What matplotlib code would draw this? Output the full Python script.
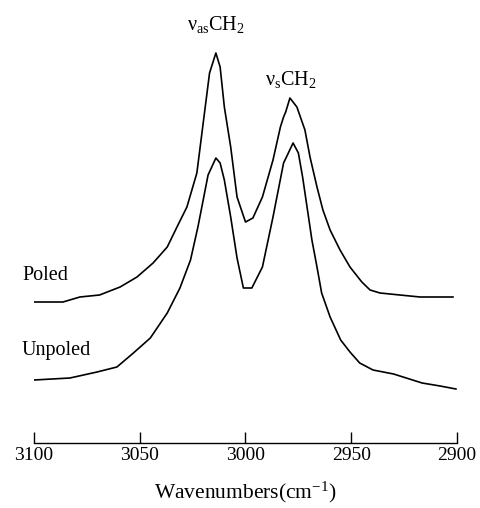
import matplotlib
matplotlib.use('Agg')
import matplotlib.pyplot as plt

plt.rcParams['font.family'] = ['Liberation Serif', 'DejaVu Serif']
plt.rcParams['mathtext.fontset'] = 'custom'
plt.rcParams['mathtext.rm'] = 'Liberation Serif'
plt.rcParams['mathtext.it'] = 'Liberation Serif:italic'

# 光谱数据 (读图得到, 任意单位, 两条曲线已错开)
poled_wn = [3100, 3086.3, 3078.3, 3069, 3059.3, 3051.3, 3043.7, 3037, 3032.4, 3027.7,
            3023, 3020, 3017, 3014, 3012, 3010, 3007, 3004, 3000, 2996.5, 2992, 2987,
            2983.5, 2982, 2981, 2979, 2975.7, 2971.9, 2969.5, 2966.2, 2963.4, 2960,
            2955.3, 2950.6, 2945, 2941.1, 2936.4, 2927, 2917.5, 2901.9]
poled_abs = [1.41, 1.41, 1.46, 1.48, 1.56, 1.66, 1.80, 1.96, 2.16, 2.36,
             2.70, 3.20, 3.70, 3.90, 3.76, 3.36, 2.96, 2.46, 2.21, 2.25, 2.46, 2.83,
             3.16, 3.26, 3.31, 3.45, 3.36, 3.13, 2.86, 2.56, 2.33, 2.13,
             1.93, 1.76, 1.61, 1.53, 1.50, 1.48, 1.46, 1.46]

unpoled_wn = [3100, 3083, 3070.2, 3060.8, 3053, 3045, 3037, 3031, 3026, 3022.5, 3020,
              3017.7, 3014, 3012, 3010, 3007, 3004, 3001, 2997, 2992, 2987, 2982, 2977.5,
              2975, 2973, 2968.6, 2966.2, 2964, 2960, 2955, 2950.6, 2946, 2939.7, 2930,
              2927, 2916.5, 2908, 2900.5]
unpoled_abs = [0.63, 0.65, 0.71, 0.76, 0.90, 1.05, 1.30, 1.55, 1.83, 2.16, 2.43,
               2.68, 2.85, 2.80, 2.63, 2.26, 1.85, 1.55, 1.55, 1.76, 2.26, 2.80, 3.00,
               2.90, 2.66, 2.03, 1.76, 1.50, 1.26, 1.03, 0.91, 0.80, 0.73, 0.69,
               0.67, 0.60, 0.57, 0.54]

xticks = [3100, 3050, 3000, 2950, 2900]

fig = plt.figure(figsize=(4.8, 5.08), dpi=100)
ax = fig.add_axes([34 / 480, 65 / 508, 423 / 480, 443 / 508])

ax.plot(poled_wn, poled_abs, color='black', lw=1.2)
ax.plot(unpoled_wn, unpoled_abs, color='black', lw=1.2)

# 标签
ax.text(3105.7, 1.68, 'Poled', fontsize=14.5, ha='left', va='center')
ax.text(3105.7, 0.93, 'Unpoled', fontsize=14.5, ha='left', va='center')
ax.text(3014, 4.13, r'ν$_{\mathrm{as}}$CH$_2$', fontsize=14.5, ha='center', va='baseline')
ax.text(2978.5, 3.58, r'ν$_{\mathrm{s}}$CH$_2$', fontsize=14.5, ha='center', va='baseline')

ax.set_xlim(3100, 2900)
ax.set_ylim(0, 4.43)
ax.set_xticks(xticks)
ax.set_xticklabels([str(t) for t in xticks], fontsize=14)
ax.set_yticks([])
for s in ['left', 'right', 'top']:
    ax.spines[s].set_visible(False)
ax.spines['bottom'].set_linewidth(1.0)
ax.tick_params(axis='x', direction='in', length=8, width=1.0, pad=3)
ax.set_xlabel(r'Wavenumbers(cm$^{\mathrm{-1}}$)', fontsize=15.5, labelpad=11)
ax.patch.set_visible(False)

plt.savefig('out.png', dpi=100)
plt.close()
